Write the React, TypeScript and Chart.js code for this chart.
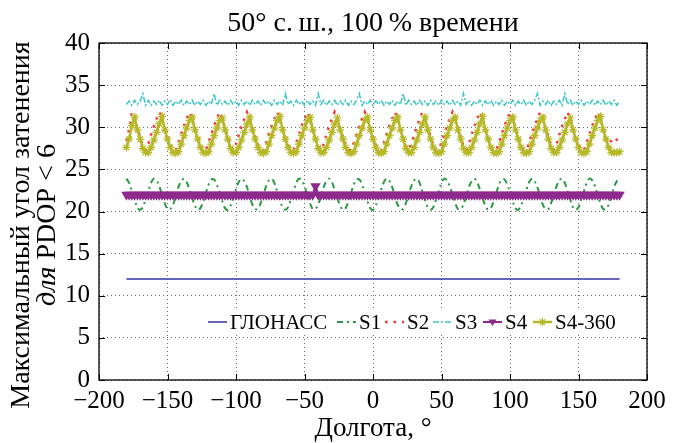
import React, { useEffect, useRef } from 'react';
import { Chart, registerables } from 'chart.js';

Chart.register(...registerables);

const TITLE = '50° с.\u2009ш., 100\u2009% времени';
const X_TITLE = 'Долгота, °';
const Y_TITLE_1 = 'Максимальный угол затенения';
const Y_TITLE_2_ITALIC = 'для';
const Y_TITLE_2 = ' PDOP < 6';

const X_TICKS = [-200, -150, -100, -50, 0, 50, 100, 150, 200];
const Y_TICKS = [0, 5, 10, 15, 20, 25, 30, 35, 40];

const SERIES_NAMES = ['ГЛОНАСС', 'S1', 'S2', 'S3', 'S4', 'S4-360'];

const LON = [
  -180, -178, -176, -174, -172, -170, -168, -166, -164, -162,
  -160, -158, -156, -154, -152, -150, -148, -146, -144, -142,
  -140, -138, -136, -134, -132, -130, -128, -126, -124, -122,
  -120, -118, -116, -114, -112, -110, -108, -106, -104, -102,
  -100, -98, -96, -94, -92, -90, -88, -86, -84, -82,
  -80, -78, -76, -74, -72, -70, -68, -66, -64, -62,
  -60, -58, -56, -54, -52, -50, -48, -46, -44, -42,
  -40, -38, -36, -34, -32, -30, -28, -26, -24, -22,
  -20, -18, -16, -14, -12, -10, -8, -6, -4, -2,
  0, 2, 4, 6, 8, 10, 12, 14, 16, 18,
  20, 22, 24, 26, 28, 30, 32, 34, 36, 38,
  40, 42, 44, 46, 48, 50, 52, 54, 56, 58,
  60, 62, 64, 66, 68, 70, 72, 74, 76, 78,
  80, 82, 84, 86, 88, 90, 92, 94, 96, 98,
  100, 102, 104, 106, 108, 110, 112, 114, 116, 118,
  120, 122, 124, 126, 128, 130, 132, 134, 136, 138,
  140, 142, 144, 146, 148, 150, 152, 154, 156, 158,
  160, 162, 164, 166, 168, 170, 172, 174, 176, 178,
  180,
];

const GLONASS_LON = [-180, 180];
const GLONASS = [12, 12];

const S1 = [
  23.9, 23.4, 22.4, 21.4, 20.5, 20.2, 20.5, 21.4, 22.4, 23.4,
  23.9, 23.7, 23.0, 22.0, 21.0, 20.3, 20.3, 20.8, 21.8, 22.9,
  23.6, 23.9, 23.5, 22.6, 21.6, 20.7, 20.2, 20.4, 21.2, 22.2,
  23.2, 23.8, 23.8, 23.2, 22.2, 21.2, 20.4, 20.2, 20.7, 21.6,
  22.6, 23.5, 23.9, 23.6, 22.9, 21.8, 20.8, 20.3, 20.3, 21.0,
  22.0, 23.0, 23.7, 23.9, 23.4, 22.4, 21.4, 20.5, 20.2, 20.5,
  21.4, 22.4, 23.4, 23.9, 23.7, 23.0, 22.0, 21.0, 20.3, 20.3,
  20.8, 21.8, 22.9, 23.6, 23.9, 23.5, 22.6, 21.6, 20.7, 20.2,
  20.4, 21.2, 22.2, 23.2, 23.8, 23.8, 23.2, 22.2, 21.2, 20.4,
  20.2, 20.7, 21.6, 22.6, 23.5, 23.9, 23.6, 22.9, 21.8, 20.8,
  20.3, 20.3, 21.0, 22.0, 23.0, 23.7, 23.9, 23.4, 22.4, 21.4,
  20.5, 20.2, 20.5, 21.4, 22.4, 23.4, 23.9, 23.7, 23.0, 22.0,
  21.0, 20.3, 20.3, 20.8, 21.8, 22.9, 23.6, 23.9, 23.5, 22.6,
  21.6, 20.7, 20.2, 20.4, 21.2, 22.2, 23.2, 23.8, 23.8, 23.2,
  22.2, 21.2, 20.4, 20.2, 20.7, 21.6, 22.6, 23.5, 23.9, 23.6,
  22.9, 21.8, 20.8, 20.3, 20.3, 21.0, 22.0, 23.0, 23.7, 23.9,
  23.4, 22.4, 21.4, 20.5, 20.2, 20.5, 21.4, 22.4, 23.4, 23.9,
  23.7, 23.0, 22.0, 21.0, 20.3, 20.3, 20.8, 21.8, 22.9, 23.6,
  23.9,
];

const S2 = [
  28.4, 29.8, 31.8, 31.0, 29.9, 28.9, 27.8, 27.3, 28.0, 29.1,
  30.1, 31.0, 31.8, 31.0, 29.9, 28.9, 27.9, 27.3, 27.3, 28.2,
  29.2, 30.2, 31.0, 31.8, 31.0, 29.9, 28.9, 27.9, 27.3, 27.3,
  28.2, 29.2, 30.2, 31.0, 31.8, 31.0, 29.9, 28.9, 27.8, 27.3,
  28.0, 29.1, 30.1, 31.0, 31.8, 31.0, 29.9, 28.9, 27.9, 27.3,
  27.3, 28.2, 29.2, 30.2, 31.0, 31.8, 31.0, 29.9, 28.9, 27.9,
  27.3, 27.3, 28.2, 29.2, 30.2, 31.0, 31.8, 31.0, 29.9, 28.9,
  27.8, 27.3, 28.0, 29.1, 30.1, 31.0, 31.8, 31.0, 29.9, 28.9,
  27.9, 27.3, 27.3, 28.2, 29.2, 30.2, 31.0, 31.8, 31.0, 29.9,
  28.9, 27.9, 27.3, 27.3, 28.2, 29.2, 30.2, 31.0, 31.8, 31.0,
  29.9, 28.9, 27.8, 27.3, 28.0, 29.1, 30.1, 31.0, 31.8, 31.0,
  29.9, 28.9, 27.9, 27.3, 27.3, 28.2, 29.2, 30.2, 31.0, 31.8,
  31.0, 29.9, 28.9, 27.8, 27.3, 28.0, 29.1, 30.1, 31.0, 31.8,
  31.0, 29.9, 28.9, 27.9, 27.3, 27.3, 28.2, 29.2, 30.2, 31.0,
  31.8, 31.0, 29.9, 28.9, 27.9, 27.3, 27.3, 28.2, 29.2, 30.2,
  31.0, 31.8, 31.0, 29.9, 28.9, 27.8, 27.3, 28.0, 29.1, 30.1,
  31.0, 31.8, 31.0, 29.9, 28.9, 27.9, 27.3, 27.3, 28.2, 29.2,
  30.2, 31.0, 31.8, 31.0, 29.9, 28.9, 28.0, 28.4, 28.8, 28.5,
  28.2,
];

const S3 = [
  32.7, 33.1, 32.6, 33.2, 32.7, 33.1, 34.0, 32.6, 33.2, 32.6,
  33.1, 32.7, 33.2, 32.6, 33.1, 32.7, 33.3, 32.6, 33.1, 32.7,
  33.2, 32.6, 33.1, 32.7, 33.2, 32.6, 33.1, 32.7, 33.2, 32.6,
  33.1, 32.7, 34.0, 32.6, 33.2, 32.7, 33.1, 32.6, 33.2, 32.7,
  33.1, 32.6, 33.2, 32.7, 33.1, 32.6, 33.2, 32.7, 33.1, 32.6,
  33.2, 32.7, 33.1, 32.6, 33.2, 32.7, 33.1, 32.6, 34.0, 32.7,
  33.1, 32.6, 33.2, 32.7, 33.1, 32.6, 33.2, 32.7, 33.1, 32.6,
  34.0, 32.7, 33.2, 32.6, 33.1, 32.7, 33.2, 32.6, 33.1, 32.7,
  33.2, 32.6, 33.1, 32.7, 33.2, 34.0, 32.6, 33.1, 32.7, 33.2,
  32.6, 33.1, 32.7, 33.2, 32.6, 33.1, 32.7, 33.2, 32.6, 33.1,
  32.7, 34.0, 32.6, 33.2, 32.7, 33.1, 32.6, 33.2, 32.7, 33.1,
  32.6, 33.2, 32.7, 33.1, 32.6, 33.2, 32.7, 33.1, 32.6, 33.2,
  32.7, 33.1, 32.6, 34.0, 32.7, 33.2, 32.6, 33.1, 32.7, 33.2,
  32.6, 33.1, 32.7, 33.2, 32.6, 33.1, 32.7, 33.2, 32.6, 33.1,
  32.7, 33.2, 32.6, 33.1, 32.7, 33.2, 32.6, 33.1, 32.7, 33.2,
  34.0, 32.6, 33.1, 32.7, 33.2, 32.6, 33.1, 32.7, 33.2, 32.6,
  34.0, 32.7, 33.2, 32.6, 33.1, 32.7, 33.2, 32.6, 33.1, 32.7,
  33.2, 32.6, 33.1, 32.7, 33.2, 32.6, 33.1, 32.7, 33.2, 32.6,
  33.1,
];

const S4 = [
  22, 22, 22, 22, 22, 22, 22, 22, 22, 22,
  22, 22, 22, 22, 22, 22, 22, 22, 22, 22,
  22, 22, 22, 22, 22, 22, 22, 22, 22, 22,
  22, 22, 22, 22, 22, 22, 22, 22, 22, 22,
  22, 22, 22, 22, 22, 22, 22, 22, 22, 22,
  22, 22, 22, 22, 22, 22, 22, 22, 22, 22,
  22, 22, 22, 22, 22, 22, 22, 22, 22, 23,
  22, 22, 22, 22, 22, 22, 22, 22, 22, 22,
  22, 22, 22, 22, 22, 22, 22, 22, 22, 22,
  22, 22, 22, 22, 22, 22, 22, 22, 22, 22,
  22, 22, 22, 22, 22, 22, 22, 22, 22, 22,
  22, 22, 22, 22, 22, 22, 22, 22, 22, 22,
  22, 22, 22, 22, 22, 22, 22, 22, 22, 22,
  22, 22, 22, 22, 22, 22, 22, 22, 22, 22,
  22, 22, 22, 22, 22, 22, 22, 22, 22, 22,
  22, 22, 22, 22, 22, 22, 22, 22, 22, 22,
  22, 22, 22, 22, 22, 22, 22, 22, 22, 22,
  22, 22, 22, 22, 22, 22, 22, 22, 22, 22,
  22,
];

const S4_360 = [
  27.6, 28.6, 30.2, 31.2, 29.7, 28.6, 27.5, 27.0, 27.0, 27.6,
  28.5, 29.4, 30.4, 31.3, 29.7, 28.6, 27.6, 27.0, 26.9, 27.1,
  28.0, 29.0, 29.9, 30.8, 31.2, 29.7, 28.6, 27.6, 27.0, 26.9,
  27.1, 28.0, 29.0, 29.9, 30.8, 31.1, 29.7, 28.6, 27.5, 27.0,
  27.0, 27.6, 28.5, 29.4, 30.4, 31.2, 29.7, 28.6, 27.6, 27.0,
  26.9, 27.1, 28.0, 29.0, 29.9, 30.8, 31.3, 29.7, 28.6, 27.6,
  27.0, 26.9, 27.1, 28.0, 29.0, 29.9, 30.8, 31.2, 29.7, 28.6,
  27.5, 27.0, 27.0, 27.6, 28.5, 29.4, 30.4, 31.1, 29.7, 28.6,
  27.6, 27.0, 26.9, 27.1, 28.0, 29.0, 29.9, 30.8, 31.2, 29.7,
  28.6, 27.6, 27.0, 26.9, 27.1, 28.0, 29.0, 29.9, 30.8, 31.2,
  29.7, 28.6, 27.5, 27.0, 27.0, 27.6, 28.5, 29.4, 30.4, 31.2,
  29.7, 28.6, 27.6, 27.0, 26.9, 27.1, 28.0, 29.0, 29.9, 30.8,
  31.2, 29.7, 28.6, 27.5, 27.0, 27.0, 27.6, 28.5, 29.4, 30.4,
  31.3, 29.7, 28.6, 27.6, 27.0, 26.9, 27.1, 28.0, 29.0, 29.9,
  30.8, 31.2, 29.7, 28.6, 27.6, 27.0, 26.9, 27.1, 28.0, 29.0,
  29.9, 30.8, 31.2, 29.7, 28.6, 27.5, 27.0, 27.0, 27.6, 28.5,
  29.4, 30.4, 31.1, 29.7, 28.6, 27.6, 27.0, 26.9, 27.1, 28.0,
  29.0, 29.9, 30.8, 31.3, 29.7, 28.6, 27.6, 27.0, 27.0, 27.0,
  27.1,
];

const FONT = "'Liberation Serif', 'DejaVu Serif', serif";
const COLORS = {
  glonass: '#3434a2',
  s1: '#2b9a43',
  s2: '#f23a3a',
  s3: '#3cc6c8',
  s4: '#8e2a8e',
  s4360: '#b6b826',
  grid: 'rgba(60,60,60,0.75)',
};
const LEGEND_X = [208, 337, 385, 433, 483, 533];

const pts = (xs: number[], ys: number[]) => xs.map((x, i) => ({ x, y: ys[i] }));
const fmt = (v: number | string) => {
  const n = Number(v);
  return n < 0 ? '\u2212' + Math.abs(n) : String(n);
};

function drawMarker(ctx: CanvasRenderingContext2D, style: string, x: number, y: number, r: number, color: string) {
  ctx.save();
  ctx.setLineDash([]);
  ctx.strokeStyle = color;
  ctx.fillStyle = color;
  if (style === 'triangleDown') {
    ctx.beginPath();
    ctx.moveTo(x - r, y - r * 0.6);
    ctx.lineTo(x + r, y - r * 0.6);
    ctx.lineTo(x, y + r);
    ctx.closePath();
    ctx.fill();
  } else if (style === 'star') {
    ctx.lineWidth = 1.2;
    ctx.beginPath();
    for (let k = 0; k < 4; k++) {
      const a = (k * Math.PI) / 4;
      ctx.moveTo(x + Math.cos(a) * r, y + Math.sin(a) * r);
      ctx.lineTo(x - Math.cos(a) * r, y - Math.sin(a) * r);
    }
    ctx.stroke();
  }
  ctx.restore();
}

const decorPlugin = {
  id: 'decor',
  afterDatasetsDraw(chart: any) {
    const { ctx, chartArea, scales } = chart;
    const { left, right, top, bottom } = chartArea;
    ctx.save();
    ctx.setLineDash([]);
    ctx.strokeStyle = '#000';
    ctx.lineWidth = 1.3;
    ctx.strokeRect(left, top, right - left, bottom - top);
    ctx.lineWidth = 1;
    const tl = 6;
    ctx.beginPath();
    X_TICKS.forEach((v) => {
      const px = Math.round(scales.x.getPixelForValue(v)) + 0.5;
      ctx.moveTo(px, bottom);
      ctx.lineTo(px, bottom - tl);
      ctx.moveTo(px, top);
      ctx.lineTo(px, top + tl);
    });
    Y_TICKS.forEach((v) => {
      const py = Math.round(scales.y.getPixelForValue(v)) + 0.5;
      ctx.moveTo(left, py);
      ctx.lineTo(left + tl, py);
      ctx.moveTo(right, py);
      ctx.lineTo(right - tl, py);
    });
    ctx.stroke();
    ctx.restore();
  },
  afterDraw(chart: any) {
    const { ctx, chartArea } = chart;
    const cx = (chartArea.left + chartArea.right) / 2;
    ctx.save();
    ctx.fillStyle = '#000';
    ctx.textAlign = 'center';
    ctx.textBaseline = 'middle';
    ctx.font = `28px ${FONT}`;
    ctx.fillText(TITLE, cx, 24);
    ctx.font = `27px ${FONT}`;
    ctx.fillText(X_TITLE, cx, 429);

    // y title
    ctx.save();
    ctx.translate(22, 225);
    ctx.rotate(-Math.PI / 2);
    ctx.font = `28px ${FONT}`;
    ctx.fillText(Y_TITLE_1, 0, 0);
    ctx.restore();

    ctx.save();
    ctx.translate(48, 225);
    ctx.rotate(-Math.PI / 2);
    ctx.textAlign = 'left';
    ctx.font = `italic 28px ${FONT}`;
    const a = ctx.measureText(Y_TITLE_2_ITALIC).width;
    ctx.font = `28px ${FONT}`;
    const b = ctx.measureText(Y_TITLE_2).width;
    const start = -(a + b) / 2;
    ctx.font = `italic 28px ${FONT}`;
    ctx.fillText(Y_TITLE_2_ITALIC, start, 0);
    ctx.font = `28px ${FONT}`;
    ctx.fillText(Y_TITLE_2, start + a, 0);
    ctx.restore();

    // legend
    ctx.font = `21px ${FONT}`;
    const sample = 19;
    const gapS = 3;
    const y = 322;
    ctx.fillStyle = '#fff';
    ctx.fillRect(200, 309, 430, 26);
    chart.data.datasets.forEach((ds: any, i: number) => {
      const x = LEGEND_X[i];
      ctx.save();
      ctx.strokeStyle = ds.borderColor;
      ctx.lineWidth = ds.borderWidth;
      ctx.setLineDash(ds.borderDash || []);
      ctx.beginPath();
      ctx.moveTo(x, y);
      ctx.lineTo(x + sample, y);
      ctx.stroke();
      ctx.restore();
      if (ds.legendMarker) drawMarker(ctx, ds.legendMarker, x + sample / 2, y, 4, ds.borderColor);
      ctx.fillStyle = '#000';
      ctx.textAlign = 'left';
      ctx.textBaseline = 'middle';
      ctx.fillText(SERIES_NAMES[i], x + sample + gapS, y + 1);
    });
    ctx.restore();
  },
};

export default function App() {
  const ref = useRef<HTMLCanvasElement | null>(null);
  useEffect(() => {
    const canvas = ref.current;
    if (!canvas) return;
    const chart = new Chart(canvas, {
      type: 'line',
      data: {
        datasets: [
          {
            label: SERIES_NAMES[0],
            data: pts(GLONASS_LON, GLONASS),
            borderColor: COLORS.glonass,
            borderWidth: 1.5,
            pointRadius: 0,
            order: 6,
          },
          {
            label: SERIES_NAMES[1],
            data: pts(LON, S1),
            borderColor: COLORS.s1,
            borderWidth: 2,
            borderDash: [6, 4, 2, 4],
            pointRadius: 0,
            tension: 0.35,
            order: 5,
          },
          {
            label: SERIES_NAMES[2],
            data: pts(LON, S2),
            borderColor: COLORS.s2,
            borderWidth: 2.5,
            borderDash: [2.5, 6],
            pointRadius: 0,
            order: 4,
          },
          {
            label: SERIES_NAMES[3],
            data: pts(LON, S3),
            borderColor: COLORS.s3,
            borderWidth: 1.5,
            borderDash: [6, 2, 2, 2],
            pointRadius: 0,
            order: 3,
          },
          {
            label: SERIES_NAMES[4],
            data: pts(LON, S4),
            borderColor: COLORS.s4,
            borderWidth: 2,
            pointStyle: 'triangle',
            pointRotation: 180,
            pointRadius: 4,
            pointBackgroundColor: COLORS.s4,
            pointBorderColor: COLORS.s4,
            legendMarker: 'triangleDown',
            order: 2,
          },
          {
            label: SERIES_NAMES[5],
            data: pts(LON, S4_360),
            borderColor: COLORS.s4360,
            borderWidth: 2.5,
            pointStyle: 'star',
            pointRadius: 4,
            pointBorderWidth: 1.2,
            pointBorderColor: COLORS.s4360,
            pointBackgroundColor: COLORS.s4360,
            legendMarker: 'star',
            order: 1,
          },
        ] as any,
      },
      options: {
        animation: false,
        responsive: false,
        devicePixelRatio: 1,
        events: [],
        layout: { padding: { left: 0, right: 26, top: 43, bottom: 0 } },
        plugins: {
          legend: { display: false },
          title: { display: false },
          tooltip: { enabled: false },
        },
        scales: {
          x: {
            type: 'linear',
            min: -200,
            max: 200,
            afterFit: (s: any) => {
              s.height = 63;
            },
            afterBuildTicks: (s: any) => {
              s.ticks = X_TICKS.map((v) => ({ value: v }));
            },
            ticks: {
              autoSkip: false,
              maxRotation: 0,
              padding: 6,
              color: '#000',
              font: { family: FONT, size: 25 },
              callback: (v: any) => fmt(v),
            },
            grid: { color: COLORS.grid, lineWidth: 1, drawTicks: false },
            border: { display: false, dash: [1, 3] },
          },
          y: {
            type: 'linear',
            min: 0,
            max: 40,
            afterFit: (s: any) => {
              s.width = 99;
            },
            afterBuildTicks: (s: any) => {
              s.ticks = Y_TICKS.map((v) => ({ value: v }));
            },
            ticks: {
              padding: 9,
              color: '#000',
              font: { family: FONT, size: 25 },
              callback: (v: any) => fmt(v),
            },
            grid: { color: COLORS.grid, lineWidth: 1, drawTicks: false },
            border: { display: false, dash: [1, 3] },
          },
        },
      } as any,
      plugins: [decorPlugin],
    });
    return () => chart.destroy();
  }, []);

  return (
    <div style={{ position: 'fixed', left: 0, top: 0, width: 673, height: 443, background: '#fff' }}>
      <canvas ref={ref} width={673} height={443} style={{ width: 673, height: 443, display: 'block' }} />
    </div>
  );
}
